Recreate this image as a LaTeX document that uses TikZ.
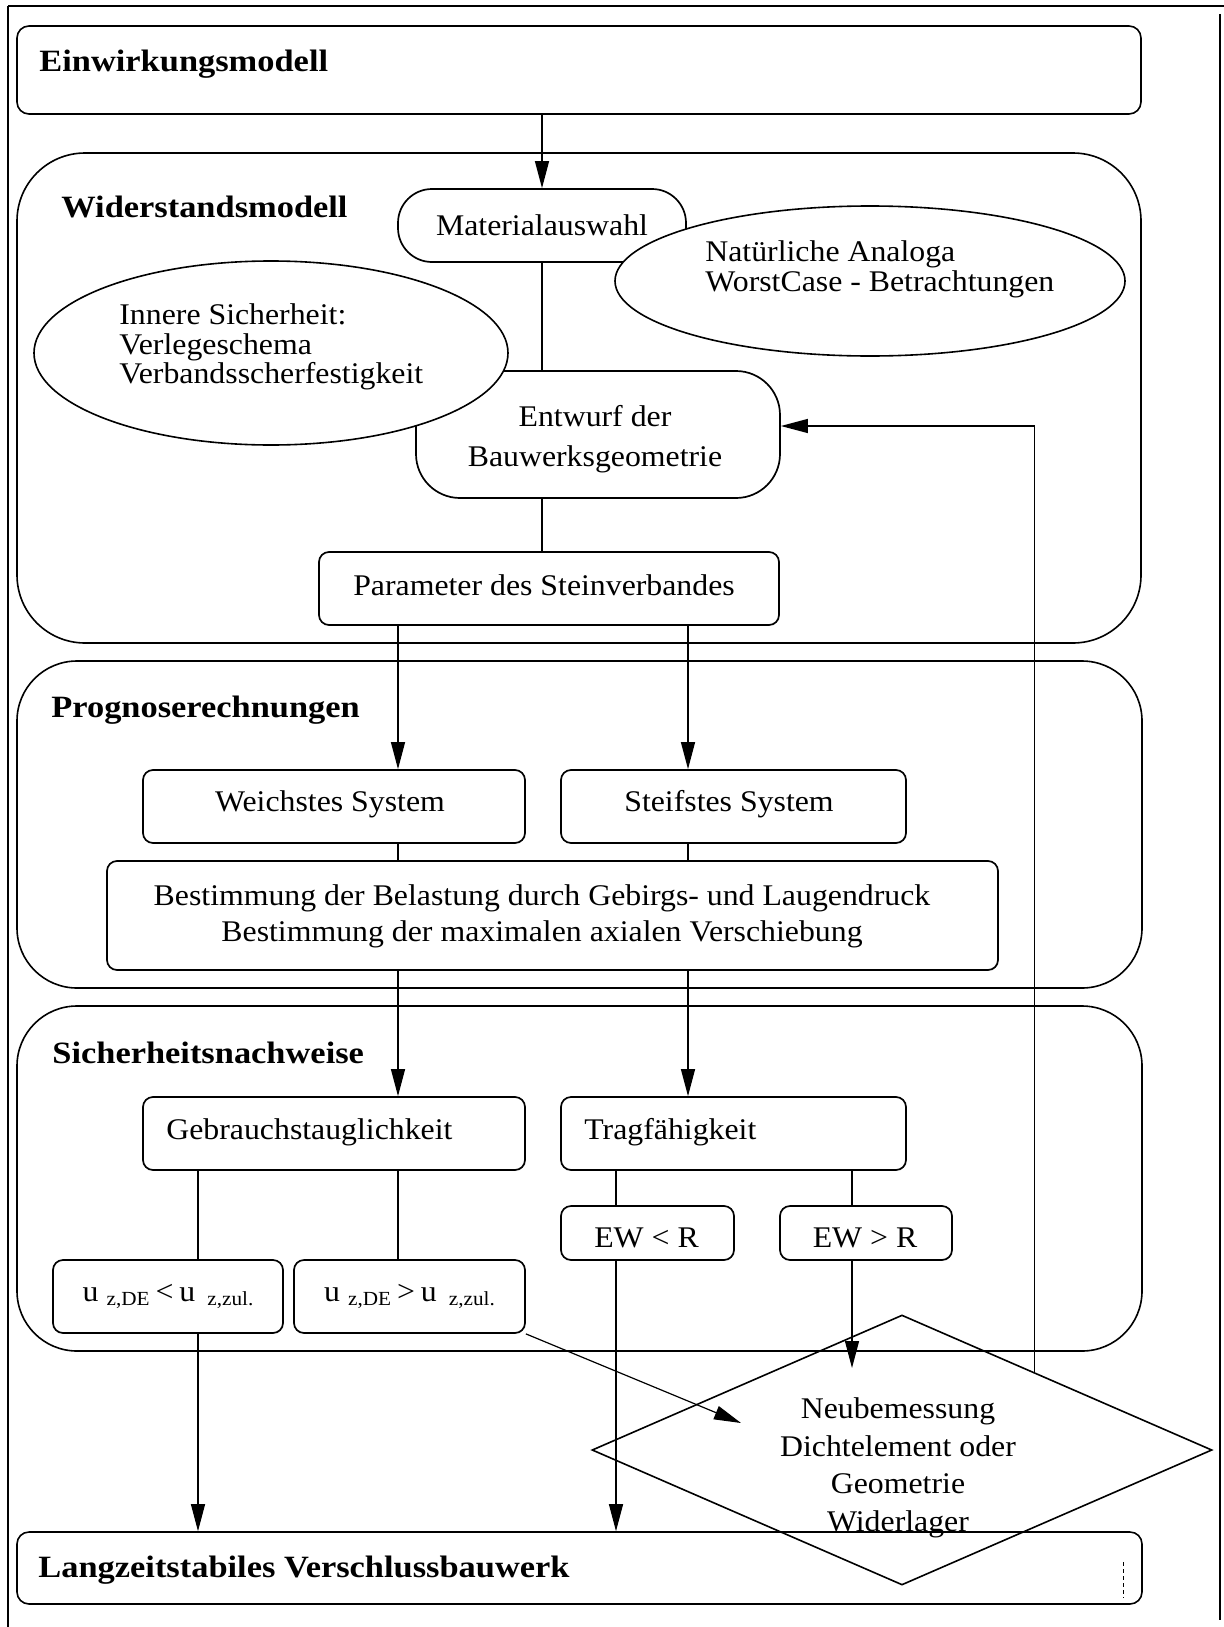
\documentclass[tikz,border=0pt]{standalone}
\usepackage{fontspec}
\setmainfont{Liberation Serif}[FakeStretch=1.06]
\newfontfamily\titlefont{Liberation Serif}[FakeStretch=1.11]
\usetikzlibrary{shapes.geometric,arrows.meta,calc}
\newcommand\mynorm{\fontsize{15}{18}\selectfont}
\newcommand\mytitle{\titlefont\bfseries\fontsize{15.5}{18}\selectfont}
\newcommand\mysub[1]{\raisebox{-2pt}{\fontsize{10}{12}\selectfont #1}}
\begin{document}
\begin{tikzpicture}[x=0.5pt,y=-0.5pt,
  grp/.style={draw, line width=0.8pt, inner sep=0pt},
  box/.style={draw, line width=0.85pt, rounded corners=5pt, inner sep=0pt, font=\mynorm},
  ell/.style={draw, ellipse, fill=white, line width=0.8pt, inner sep=0pt},
  txt/.style={inner sep=0pt, font=\mynorm},
  ttl/.style={inner sep=0pt, font=\mytitle},
  con/.style={line width=0.6pt},
  arr/.style={line width=0.6pt, -{Triangle[length=13.5pt,width=7pt]}}]
\useasboundingbox (0,0) rectangle (1224,1627);
% page frame
\draw[line width=1pt] (8,6) -- (1224,6);
\draw[line width=1pt] (8,6) -- (8,1627);
\draw[line width=1pt] (1220,14) -- (1220,1620);

% Einwirkungsmodell
\node[grp, rounded corners=6pt, minimum width=562pt, minimum height=44pt] (ein) at (579,70) {};
\node[ttl, anchor=base west] (einl) at (39,72) {Einwirkungsmodell};

% Widerstandsmodell
\node[grp, rounded corners=34pt, minimum width=562pt, minimum height=245pt] (wid) at (579,398) {};
\node[ttl, anchor=base west] (widl) at (61,217) {Widerstandsmodell};
\node[box, rounded corners=17pt, minimum width=144pt, minimum height=36.5pt] (mat) at (542,225.5) {Materialauswahl};
\node[ell, minimum width=255pt, minimum height=75pt] (nat) at (870,281) {};
\node[txt, anchor=west, align=left, font={\fontsize{15}{15}\selectfont}] (natt) at (705,269) {Natürliche Analoga\\WorstCase - Betrachtungen};
\node[box, rounded corners=22pt, minimum width=182pt, minimum height=63.5pt] (entw) at (598,434.5) {};
\node[txt, align=center, font={\fontsize{15}{19.7}\selectfont}] (entwt) at (595,439) {Entwurf der\\Bauwerksgeometrie};
\node[ell, minimum width=237pt, minimum height=92pt] (inn) at (271,353) {};
\node[txt, anchor=west, align=left, font={\fontsize{15}{14.8}\selectfont}] (innt) at (119,347) {Innere Sicherheit:\\Verlegeschema\\Verbandsscherfestigkeit};
\node[box, minimum width=230pt, minimum height=36.5pt] (par) at (549,588.5) {};
\node[txt] (part) at (544,585) {Parameter des Steinverbandes};

% Prognoserechnungen
\node[grp, rounded corners=30pt, minimum width=562.5pt, minimum height=163.5pt] (prog) at (579.5,824.5) {};
\node[ttl, anchor=base west] (progl) at (51,717) {Prognoserechnungen};
\node[box, minimum width=191pt, minimum height=36.5pt] (weich) at (334,806.5) {};
\node[txt] (weicht) at (330,804) {Weichstes System};
\node[box, minimum width=172.5pt, minimum height=36.5pt] (steif) at (733.5,806.5) {};
\node[txt] (steift) at (729,804) {Steifstes System};
\node[box, minimum width=445.5pt, minimum height=54.5pt] (best) at (552.5,915.5) {};
\node[txt, align=center, font={\fontsize{15}{18}\selectfont}] (bestt) at (542,916) {Bestimmung der Belastung durch Gebirgs- und Laugendruck\\Bestimmung der maximalen axialen Verschiebung};

% Sicherheitsnachweise
\node[grp, rounded corners=30pt, minimum width=562.5pt, minimum height=172.5pt] (sich) at (579.5,1178.5) {};
\node[ttl, anchor=base west] (sichl) at (52,1063) {Sicherheitsnachweise};
\node[box, minimum width=191pt, minimum height=36.5pt] (gebr) at (334,1133.5) {};
\node[txt, anchor=west] (gebrt) at (166,1132) {Gebrauchstauglichkeit};
\node[box, minimum width=172.5pt, minimum height=36.5pt] (trag) at (733.5,1133.5) {};
\node[txt, anchor=west] (tragt) at (584,1132) {Tragfähigkeit};
\node[box, minimum width=86.5pt, minimum height=27pt] (ewl) at (647.5,1233) {};
\node[txt] (ewlt) at (646.5,1238) {EW < R};
\node[box, minimum width=86pt, minimum height=27pt] (ewg) at (866,1233) {};
\node[txt] (ewgt) at (865,1238) {EW > R};
\node[box, minimum width=115pt, minimum height=36.5pt] (uzl) at (168,1296.5) {u\hspace{4pt}\mysub{z,DE}\hspace{3pt}<\hspace{3pt}u\hspace{6pt}\mysub{z,zul.}};
\node[box, minimum width=115.5pt, minimum height=36.5pt] (uzg) at (409.5,1296.5) {u\hspace{4pt}\mysub{z,DE}\hspace{3pt}>\hspace{3pt}u\hspace{6pt}\mysub{z,zul.}};

% Langzeitstabiles Verschlussbauwerk
\node[grp, rounded corners=6pt, minimum width=562.5pt, minimum height=36pt] (lang) at (579.5,1568) {};
\node[ttl, anchor=base west] (langl) at (38,1577) {Langzeitstabiles Verschlussbauwerk};
\draw[line width=0.4pt, dash pattern=on 2pt off 1.5pt] (1123,1562) -- (1123,1598);

% Neubemessung diamond
\node[draw, diamond, line width=0.8pt, inner sep=0pt, minimum width=310pt, minimum height=135pt] (neu) at (902,1450) {};
\node[txt, align=center, font={\fontsize{15}{18.8}\selectfont}] (neut) at (898,1468) {Neubemessung\\Dichtelement oder\\Geometrie\\Widerlager};

% helper x positions
\coordinate (xa) at (398,0);
\coordinate (xb) at (688,0);
\coordinate (xc) at (198,0);
\coordinate (xd) at (616,0);
\coordinate (xe) at (852,0);
\coordinate (ewtip) at (852,1368);
\coordinate (dtip) at (741,1423);
\coordinate (fb) at ($(neu.north)!0.426!(neu.east)$);

% connectors
\draw[arr] (mat.north |- ein.south) -- (mat.north);
\draw[con] (mat.south) -- (mat.south |- entw.north);
\draw[con] (mat.south |- entw.south) -- (mat.south |- par.north);
\draw[arr] (par.south -| xa) -- (weich.north -| xa);
\draw[arr] (par.south -| xb) -- (steif.north -| xb);
\draw[con] (weich.south -| xa) -- (best.north -| xa);
\draw[con] (steif.south -| xb) -- (best.north -| xb);
\draw[arr] (best.south -| xa) -- (gebr.north -| xa);
\draw[arr] (best.south -| xb) -- (trag.north -| xb);
\draw[con] (gebr.south -| xc) -- (uzl.north -| xc);
\draw[con] (gebr.south -| xa) -- (uzg.north -| xa);
\draw[con] (trag.south -| xd) -- (ewl.north -| xd);
\draw[con] (trag.south -| xe) -- (ewg.north -| xe);
\draw[arr] (uzl.south -| xc) -- (lang.north -| xc);
\draw[arr] (ewl.south -| xd) -- (lang.north -| xd);
\draw[arr] (ewg.south -| xe) -- (ewtip);
\draw[arr] (uzg.south east) -- (dtip);
\draw[arr] (fb) |- ([yshift=4.25pt]entw.east);
\end{tikzpicture}
\end{document}
